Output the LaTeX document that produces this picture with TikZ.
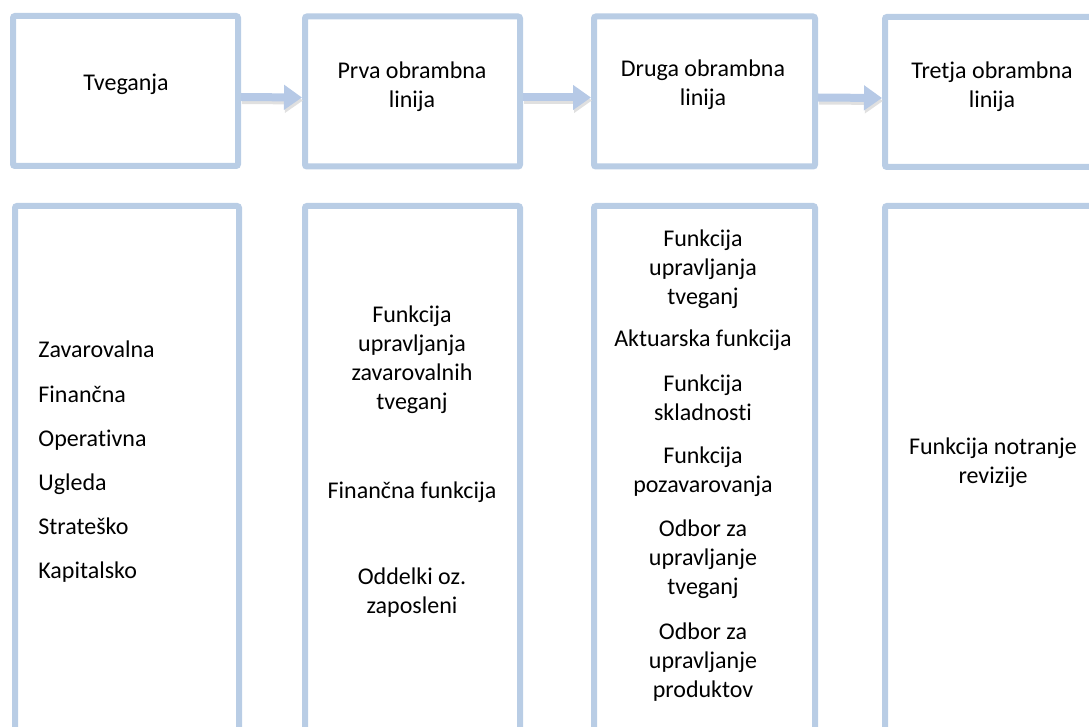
\documentclass[tikz,border=0pt]{standalone}
\usepackage{fontspec}
\setmainfont{Carlito}[Ligatures=NoCommon]
\usetikzlibrary{arrows.meta,positioning}
\definecolor{lineblue}{RGB}{185,205,229}
\definecolor{arrowblue}{RGB}{182,201,230}

\begin{document}
\begin{tikzpicture}[x=0.5pt,y=-0.5pt,>=Latex,
font=\fontsize{12}{14.5}\selectfont,
panel/.style={draw=lineblue,line width=3pt,rounded corners=1pt,minimum height=75pt,inner sep=0pt},
tall/.style={panel,minimum height=277pt},
lbl/.style={align=center,inner sep=0pt},
flow/.style={draw=arrowblue,line width=4pt,-{Triangle[length=9pt,width=12pt]},
  preaction={draw=black!12,line width=4pt,-{Triangle[length=9pt,width=12pt]},transform canvas={xshift=0.5pt,yshift=-1.5pt}}}]
\useasboundingbox (0,0) rectangle (1089,727);
\clip (0,0) rectangle (1089,727);
% top row
\node[panel,minimum width=112.5pt] (risk) at (125.5,91) {};
\node[panel,minimum width=107.5pt] (first) at (412.5,91.5) {};
\node[panel,minimum width=110.5pt] (second) at (704.5,91.5) {};
\node[panel,minimum width=107.5pt] (third) at (992.5,92) {};
\node[lbl] at (126,84) {Tveganja};
\node[lbl] at (412,87) {Prva obrambna\\linija};
\node[lbl] at (703,85) {Druga obrambna\\linija};
\node[lbl] at (992,87) {Tretja obrambna\\linija};
\draw[flow] ([yshift=-3pt]risk.east) -- ([yshift=-3pt]first.west);
\draw[flow] ([yshift=-3pt]first.east) -- ([yshift=-3pt]second.west);
\draw[flow] ([yshift=-3pt]second.east) -- ([yshift=-3pt]third.west);
% bottom row
\node[tall,minimum width=112pt] (riskl) at (127,483) {};
\node[tall,minimum width=107.5pt] (firstl) at (412.5,483) {};
\node[tall,minimum width=110.5pt] (secondl) at (704.5,483) {};
\node[tall,minimum width=107.5pt] (thirdl) at (992.5,483) {};
\node[lbl,align=left,anchor=west,font=\fontsize{12}{22.1}\selectfont] at (38,462)
  {Zavarovalna\\Finančna\\Operativna\\Ugleda\\Strateško\\Kapitalsko};
\node[lbl] at (412,360) {Funkcija\\upravljanja\\zavarovalnih\\tveganj};
\node[lbl] at (412,492) {Finančna funkcija};
\node[lbl] at (412,593) {Oddelki oz.\\zaposleni};
\node[lbl] at (703,269) {Funkcija\\upravljanja\\tveganj};
\node[lbl] at (703,340) {Aktuarska funkcija};
\node[lbl] at (703,398) {Funkcija\\skladnosti};
\node[lbl] at (703,472) {Funkcija\\pozavarovanja};
\node[lbl] at (703,559) {Odbor za\\upravljanje\\tveganj};
\node[lbl] at (703,662) {Odbor za\\upravljanje\\produktov};
\node[lbl] at (993,463) {Funkcija notranje\\revizije};
\end{tikzpicture}
\end{document}
